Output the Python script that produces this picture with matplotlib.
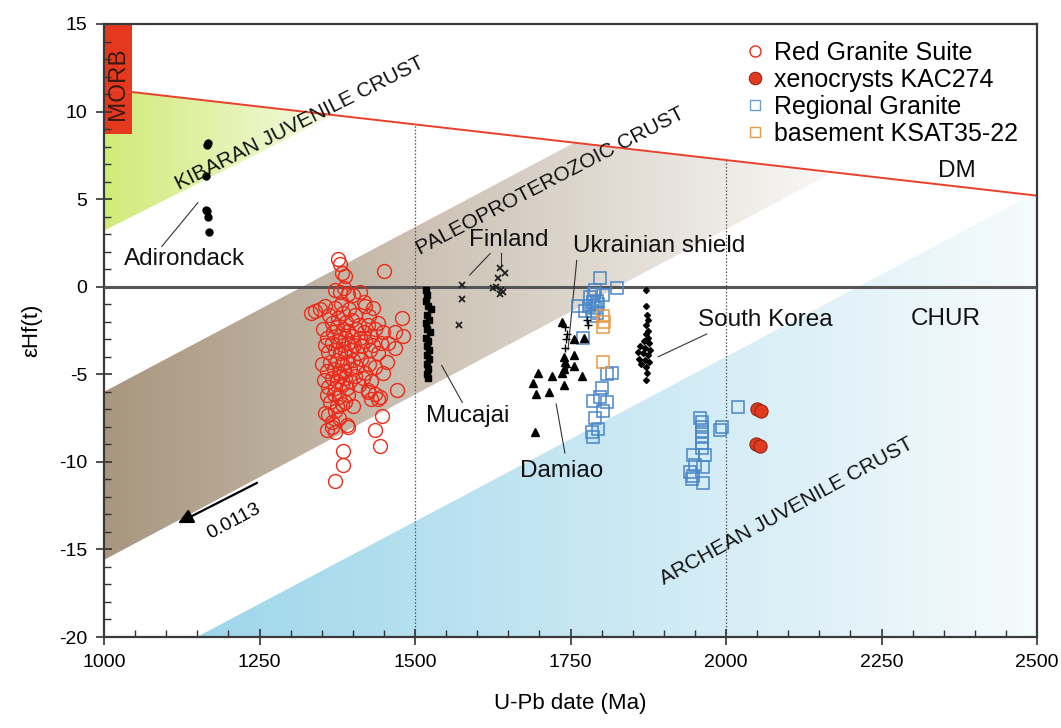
import numpy as np
import matplotlib
matplotlib.use("Agg")
import matplotlib.pyplot as plt
from matplotlib.patches import Polygon, Rectangle
from matplotlib.lines import Line2D

plt.rcParams['font.family'] = ['Liberation Sans', 'DejaVu Sans']
plt.rcParams['axes.unicode_minus'] = False

# ---------------- data (U-Pb age in Ma, epsilon Hf(t)) ----------------
red_granite = np.array([
    (1377, 1.6), (1379, 1.3), (1382, 0.8), (1387, 0.6), (1450, 0.9),
    (1372, -0.2), (1380, -0.3), (1386, -0.1), (1392, -0.4), (1401, -0.5), (1412, -0.3), (1418, -0.9),
    (1333, -1.5), (1339, -1.4), (1347, -1.3), (1355, -1.1), (1362, -1.6), (1366, -2.1), (1372, -1.2),
    (1376, -1.8), (1381, -1.0), (1385, -1.5), (1389, -2.0), (1394, -1.3), (1398, -1.9), (1404, -1.6),
    (1410, -2.2), (1420, -1.1), (1426, -1.7), (1433, -1.2), (1441, -2.1), (1479, -1.8),
    (1352, -2.4), (1359, -2.9), (1368, -2.6), (1374, -2.3), (1379, -2.8), (1384, -2.4), (1388, -2.9),
    (1393, -2.5), (1399, -2.8), (1405, -2.4), (1412, -2.9), (1418, -2.6), (1424, -2.2), (1430, -2.8),
    (1436, -2.4), (1449, -2.6), (1468, -2.6), (1481, -2.8),
    (1356, -3.3), (1360, -3.7), (1366, -3.2), (1371, -3.6), (1376, -3.1), (1380, -3.8), (1384, -3.3),
    (1388, -3.7), (1392, -3.2), (1397, -3.6), (1402, -3.3), (1408, -3.8), (1414, -3.4), (1420, -3.1),
    (1427, -3.6), (1433, -3.3), (1440, -3.8), (1446, -3.2), (1457, -3.2), (1468, -3.5),
    (1351, -4.4), (1358, -4.8), (1364, -4.3), (1369, -4.7), (1374, -4.2), (1378, -4.9), (1382, -4.4),
    (1386, -4.8), (1390, -4.3), (1395, -4.7), (1401, -4.2), (1407, -4.6), (1413, -4.1), (1420, -4.9),
    (1426, -4.4), (1436, -4.6), (1449, -4.9), (1455, -4.3),
    (1354, -5.3), (1360, -5.7), (1366, -5.2), (1371, -5.8), (1375, -5.4), (1379, -5.1), (1383, -5.6),
    (1387, -5.2), (1391, -5.8), (1396, -5.4), (1403, -5.1), (1410, -5.6), (1417, -5.2), (1424, -5.9),
    (1430, -5.4), (1471, -5.9),
    (1358, -6.2), (1364, -6.6), (1369, -6.1), (1374, -6.8), (1378, -6.3), (1382, -6.7), (1387, -6.6),
    (1392, -6.2), (1400, -6.8), (1424, -6.0), (1430, -6.4), (1436, -6.1), (1441, -6.4), (1444, -6.3),
    (1355, -7.2), (1360, -7.3), (1366, -7.7), (1372, -7.1), (1378, -7.5), (1390, -7.9), (1447, -7.4),
    (1358, -8.2), (1366, -8.0), (1371, -8.3), (1392, -8.0), (1436, -8.2),
    (1385, -9.4), (1444, -9.1), (1385, -10.2), (1371, -11.1),
])

xenocrysts = np.array([(2050, -7.0), (2056, -7.1), (2049, -9.0), (2054, -9.1)])

regional_granite = np.array([
    (1797, 0.5), (1824, -0.05), (1790, -0.2), (1803, -0.5), (1782, -0.6), (1786, -0.9), (1790, -1.2),
    (1784, -1.4), (1792, -0.8), (1795, -1.0), (1788, -0.4), (1780, -1.1), (1793, -1.5), (1786, -1.7),
    (1762, -1.1), (1773, -1.4), (1770, -2.9),
    (1816, -4.9), (1808, -5.0), (1800, -5.8), (1797, -6.3), (1786, -6.5), (1808, -6.6), (1803, -7.1),
    (1790, -7.5), (1795, -8.1), (1784, -8.3), (1786, -8.6),
    (2019, -6.85), (1993, -8.0), (1990, -8.2), (1958, -7.5), (1961, -7.7), (1961, -8.0), (1961, -8.3),
    (1961, -8.6), (1961, -8.9), (1961, -9.2), (1947, -9.6), (1966, -9.6), (1963, -10.3), (1950, -10.2),
    (1942, -10.6), (1947, -10.8), (1963, -11.2), (1945, -11.0),
])

basement = np.array([(1803, -1.7), (1804, -2.0), (1803, -2.3), (1802, -4.3)])

adirondack = np.array([(1168, 8.2), (1165, 8.1), (1164, 6.3), (1164, 4.4), (1166, 4.3), (1168, 4.0), (1169, 3.1)])

mucajai = np.array([
    (1517, -0.2), (1519, -0.5), (1517, -0.8), (1521, -1.1), (1525, -1.3), (1519, -1.6), (1522, -1.9),
    (1517, -2.1), (1520, -2.4), (1524, -2.6), (1518, -2.9), (1521, -3.1), (1519, -3.4), (1523, -3.6),
    (1520, -3.9), (1522, -4.1), (1519, -4.4), (1521, -4.7), (1520, -5.0), (1521, -5.2),
])

finland = np.array([(1575, 0.1), (1575, -0.7), (1571, -2.2), (1637, 1.05), (1645, 0.8), (1634, 0.5),
                    (1631, 0.0), (1639, -0.2), (1626, -0.1), (1637, -0.4), (1641, -0.3)])

damiao = np.array([
    (1736, -2.0), (1755, -3.0), (1771, -2.9), (1739, -4.0), (1741, -4.3), (1755, -3.9), (1755, -4.5),
    (1739, -4.7), (1736, -4.9), (1768, -5.1), (1720, -5.1), (1698, -4.9), (1690, -5.5), (1694, -6.1),
    (1715, -6.0), (1739, -5.6), (1693, -8.3),
])

ukrainian = np.array([(1741, -2.3), (1744, -2.7), (1743, -3.0), (1741, -3.5), (1744, -4.6),
                      (1776, -1.9), (1778, -2.2)])

south_korea = np.array([
    (1872, -0.2), (1872, -1.1), (1873, -1.6), (1874, -1.9), (1872, -2.2), (1875, -2.5), (1871, -2.7),
    (1874, -2.9), (1868, -3.1), (1876, -3.2), (1862, -3.4), (1870, -3.5), (1878, -3.6), (1858, -3.7),
    (1866, -3.8), (1874, -3.9), (1860, -4.1), (1870, -4.2), (1877, -4.3), (1864, -4.4), (1872, -4.6),
    (1873, -4.9), (1872, -5.3),
])

# depleted mantle line and crustal domains
dm_line = [(1000, 11.3), (2500, 5.2)]
kibaran_poly = [(1000, 11.3), (1370, 9.8), (1000, 3.2)]
paleo_poly = [(1000, -6.0), (1755, 8.2), (2170, 6.5), (1000, -15.6)]
archean_poly = [(1150, -20), (2500, -20), (2500, 5.4)]
morb_box = (1000, 8.7, 45, 6.3)  # x, y, width, height

x_ticks = [1000, 1250, 1500, 1750, 2000, 2250, 2500]
y_ticks = [-20, -15, -10, -5, 0, 5, 10, 15]

# ---------------- figure ----------------
fig = plt.figure(figsize=(10.61, 7.28), dpi=100)
ax = fig.add_axes([104 / 1061, 91 / 728, 933 / 1061, 613 / 728])


def gradient_region(poly, x0, x1, c0, c1, z):
    t = np.linspace(0, 1, 256)[:, None]
    cols = np.array(c0)[None, :] * (1 - t) + np.array(c1)[None, :] * t
    im = ax.imshow(cols[None, :, :], extent=[x0, x1, -20, 15], aspect='auto',
                   origin='lower', interpolation='bilinear', zorder=z)
    patch = Polygon(poly, closed=True, facecolor='none', edgecolor='none')
    ax.add_patch(patch)
    im.set_clip_path(patch)


gradient_region(kibaran_poly, 1000, 1370, (0.82, 0.92, 0.47), (0.96, 0.98, 0.90), 0.5)
gradient_region(paleo_poly, 1000, 2250, (0.66, 0.59, 0.50), (1.0, 1.0, 1.0), 0.5)
gradient_region(archean_poly, 1150, 2520, (0.62, 0.84, 0.92), (0.97, 0.985, 0.99), 0.5)

ax.add_patch(Rectangle(morb_box[:2], morb_box[2], morb_box[3], facecolor='#e5391f',
                       edgecolor='none', zorder=1))
ax.text(1023, 11.6, 'MORB', rotation=90, ha='center', va='center', fontsize=17.5,
        color='#3a1a12', zorder=7)

# DM line
ax.plot([p[0] for p in dm_line], [p[1] for p in dm_line], color='#e8402a', lw=1.4, zorder=2)


def dm_at(x):
    (xa, ya), (xb, yb) = dm_line
    return ya + (yb - ya) * (x - xa) / (xb - xa)


for xv in (1500, 2000):
    ax.plot([xv, xv], [-20, dm_at(xv)], color='#555555', lw=0.9, ls=(0, (1.2, 1.5)), zorder=1.5)

# CHUR
ax.axhline(0, color='#555555', lw=2.2, zorder=3)

# leader lines
leaders = [
    ((1093, 2.3), (1151, 4.8)),
    ((1621, 1.9), (1588, 0.67)),
    ((1639, 1.9), (1639, 1.24)),
    ((1760, 1.5), (1746, -3.6)),
    ((1969, -2.7), (1891, -4.0)),
    ((1543, -4.5), (1576, -6.6)),
    ((1727, -6.7), (1741, -9.5)),
]
for (xa, ya), (xb, yb) in leaders:
    ax.plot([xa, xb], [ya, yb], color='#333333', lw=0.8, zorder=3)

# other-study data
ax.plot(adirondack[:, 0], adirondack[:, 1], 'o', color='black', ms=5, zorder=5)
ax.plot(mucajai[:, 0], mucajai[:, 1], 's', color='black', ms=4.5, zorder=5)
ax.plot(finland[:, 0], finland[:, 1], 'x', color='#222222', ms=5, mew=1.3, zorder=5)
ax.plot(damiao[:, 0], damiao[:, 1], '^', color='black', ms=6, zorder=5)
ax.plot(ukrainian[:, 0], ukrainian[:, 1], '+', color='black', ms=6, mew=1, zorder=5)
ax.plot(south_korea[:, 0], south_korea[:, 1], 'D', color='black', ms=3, zorder=5)

# this study
red = '#ec2a1a'
ax.plot(red_granite[:, 0], red_granite[:, 1], 'o', mfc='none', mec=red, ms=10, mew=1.0, zorder=4)
ax.plot(regional_granite[:, 0], regional_granite[:, 1], 's', mfc='none', mec='#4a86c8', ms=8.5,
        mew=1.1, zorder=4)
ax.plot(basement[:, 0], basement[:, 1], 's', mfc='none', mec='#ec9a45', ms=8, mew=1.1, zorder=4)
ax.plot(xenocrysts[:, 0], xenocrysts[:, 1], 'o', mfc='#e03b1e', mec='#9a2412', ms=9.5, mew=0.8,
        zorder=6)

# evolution arrow
ax.annotate('', xy=(1119, -13.5), xytext=(1246, -11.2),
            arrowprops=dict(arrowstyle='-|>', color='black', lw=1.6, mutation_scale=22,
                            shrinkA=0, shrinkB=0), zorder=6)
ax.text(1208, -13.4, '0.0113', rotation=28, ha='center', va='center', fontsize=14,
        rotation_mode='anchor', zorder=7)

# labels
lab = dict(fontsize=17.5, color='#111111', zorder=7, ha='center', va='center')
ax.text(1130, 1.6, 'Adirondack', **lab)
ax.text(1650, 2.65, 'Finland', **lab)
ax.text(1892, 2.3, 'Ukrainian shield', **lab)
ax.text(2064, -1.9, 'South Korea', **lab)
ax.text(1584, -7.4, 'Mucajai', **lab)
ax.text(1736, -10.5, 'Damiao', **lab)
ax.text(2371, 6.6, 'DM', **lab)
ax.text(2354, -1.85, 'CHUR', **lab)

slant = dict(fontsize=15, color='#111111', zorder=7, ha='center', va='center',
             rotation_mode='anchor')
ax.text(1314, 9.3, 'KIBARAN JUVENILE CRUST', rotation=26.6, **slant)
ax.text(1717, 6.0, 'PALEOPROTEROZOIC CRUST', rotation=27.4, **slant)
ax.text(2098, -12.8, 'ARCHEAN JUVENILE CRUST', rotation=28.8, **slant)

# legend
handles = [
    Line2D([], [], ls='', marker='o', mfc='none', mec=red, ms=8, mew=1.0),
    Line2D([], [], ls='', marker='o', mfc='#e03b1e', mec='#9a2412', ms=9, mew=0.8),
    Line2D([], [], ls='', marker='s', mfc='none', mec='#6a9fd6', ms=7, mew=1.0),
    Line2D([], [], ls='', marker='s', mfc='none', mec='#ec9a45', ms=7, mew=1.0),
]
labels = ['Red Granite Suite', 'xenocrysts KAC274', 'Regional Granite', 'basement KSAT35-22']
ax.legend(handles, labels, loc='upper left', bbox_to_anchor=(0.687, 0.972), frameon=False,
          fontsize=18, handlelength=0.8, handletextpad=0.35, labelspacing=0.12, borderpad=0,
          borderaxespad=0)

# axes
ax.set_xlim(1000, 2500)
ax.set_ylim(-20, 15)
ax.set_xticks(x_ticks)
ax.set_yticks(y_ticks)
ax.set_xticks(np.arange(1000, 2501, 50), minor=True)
ax.set_yticks(np.arange(-20, 16, 1), minor=True)
ax.tick_params(which='major', direction='inout', length=12, width=1.2, labelsize=14,
               color='#333333', pad=6)
ax.tick_params(which='minor', direction='in', length=5, width=1.0, color='#333333')
ax.tick_params(top=False, right=False, which='both')
for s in ax.spines.values():
    s.set_color('#3a3a3a')
    s.set_linewidth(1.6)

ax.set_xlabel('U-Pb date (Ma)', fontsize=16, labelpad=16)
ax.set_ylabel('εHf(t)', fontsize=16, labelpad=12)

fig.savefig('out.png', dpi=100)
